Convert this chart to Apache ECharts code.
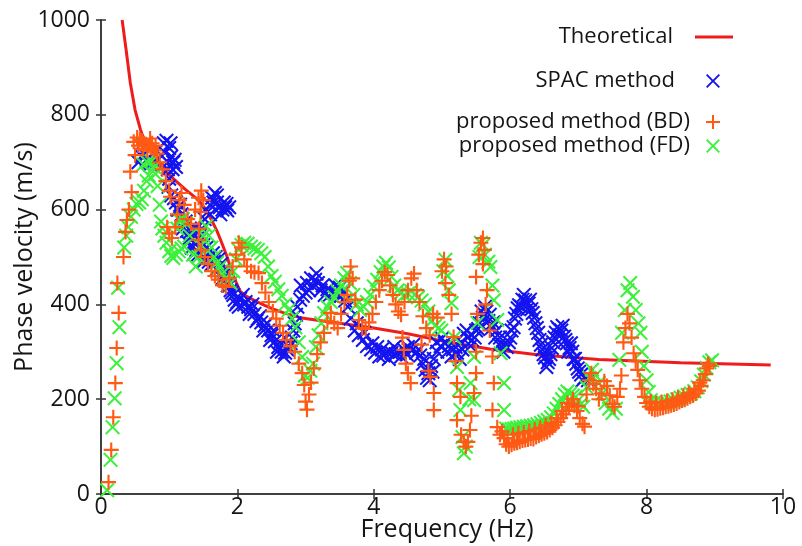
<!DOCTYPE html>
<html>
<head>
<meta charset="utf-8">
<script src="https://cdn.jsdelivr.net/npm/echarts@6/dist/echarts.min.js"></script>
<style>
html,body{margin:0;padding:0;background:#fff;}
#chart{width:802px;height:546px;}
</style>
</head>
<body>
<div id="chart"></div>
<script>
// ---- data (frequency Hz, phase velocity m/s) ----
const xTicks = [0, 2, 4, 6, 8, 10];
const yTicks = [0, 200, 400, 600, 800, 1000];
const seriesNames = ['Theoretical', 'SPAC method', 'proposed method (BD)', 'proposed method (FD)'];

const theoretical = [[0.31,1000],[0.37,935],[0.43,867],[0.5,810],[0.58,768],[0.62,752],[0.8,712],[0.95,680],[1.1,660],[1.24,642],[1.43,620],[1.55,598],[1.62,578],[1.7,555],[1.77,530],[1.85,500],[1.91,473],[1.97,450],[2.04,428],[2.12,418],[2.24,409],[2.4,398],[2.53,390],[2.7,381],[2.92,372],[3.2,366],[3.5,360],[4.0,350],[4.5,338],[5.0,323],[5.7,306],[6.4,294],[7.3,284],[8.5,277],[9.82,272]];

const spac = [[0.55,700],[0.6,712],[0.63,718],[0.67,705],[0.72,695],[0.8,700],[0.88,715],[0.92,740],[0.96,745],[1.0,730],[1.03,712],[1.06,700],[1.1,690],[0.98,685],[1.0,665],[0.99,648],[1.03,630],[1.07,624],[1.1,615],[1.14,600],[1.18,590],[1.22,570],[1.26,555],[1.3,540],[1.33,520],[1.37,508],[1.4,515],[1.44,535],[1.48,560],[1.52,580],[1.56,595],[1.6,610],[1.63,625],[1.67,635],[1.7,615],[1.74,605],[1.78,600],[1.82,605],[1.85,598],
[1.4,560],[1.45,545],[1.5,525],[1.55,505],[1.6,500],[1.64,508],[1.68,500],[1.72,495],[1.76,485],[1.8,470],[1.84,455],[1.88,440],[1.92,425],[1.96,410],[2.0,405],[2.04,412],[2.08,420],[2.12,405],[2.16,395],[2.2,390],[2.25,380],[2.3,370],[2.35,362],[2.4,355],[2.45,345],[2.5,335],[2.55,322],[2.6,310],[2.65,300],[2.7,298],[2.75,310],[2.8,330],[2.84,360],[2.88,395],[2.92,410],[2.96,418],[3.0,425],[3.05,430],[3.1,440],[3.14,452],[3.18,445],[3.22,430],[3.28,420],[3.34,418],[3.4,425],[3.46,422],[3.52,418],[3.58,408],[3.62,395],[3.66,370],[3.72,345],[3.78,335],[3.84,325],[3.9,312],[3.96,305],[4.02,298],[4.08,290],[4.14,292],[4.2,300],[4.26,298],[4.32,295],[4.38,300],[4.44,305],[4.5,310],[4.56,303],[4.62,298],[4.68,292],[4.72,275],[4.76,262],[4.8,255],[4.84,270],[4.88,285],[4.93,300],[4.98,312],[5.04,318],[5.1,312],[5.16,305],[5.22,298],[5.28,320],[5.32,338],[5.38,330],[5.44,325],[5.5,345],[5.55,360],[5.6,372],[5.65,385],[5.7,378],[5.75,362],[5.8,345],[5.85,330],[5.9,315],[5.95,310],[6.0,330],[6.05,352],[6.09,380],[6.13,398],[6.18,410],[6.22,408],[6.27,402],[6.31,390],[6.35,372],[6.39,350],[6.43,325],[6.47,305],[6.51,288],[6.55,278],[6.59,295],[6.63,320],[6.67,340],[6.71,348],[6.75,345],[6.79,332],[6.83,318],[6.87,308],[6.91,300],[6.95,285],[6.99,265],[7.04,252],[7.09,245],[7.14,240],
[0.94,720],[0.98,700],[1.02,740],[1.05,685],[1.08,705],[1.12,600],[1.16,610],[1.2,560],[1.24,575],[1.28,530],[1.32,555],[1.36,530],[1.42,505],[1.46,520],[1.5,490],[1.55,520],[1.58,490],[1.62,485],[1.66,490],[1.7,475],[1.74,480],[1.78,455],[1.82,465],[1.86,440],[1.9,430],[1.94,420],[1.98,400],[1.6,590],[1.65,615],[1.7,630],[1.75,590],[1.8,615],[1.84,612],[1.88,605],
[2.02,395],[2.1,400],[2.18,380],[2.22,400],[2.28,365],[2.33,375],[2.38,345],[2.43,360],[2.48,325],[2.53,345],[2.58,300],[2.62,320],[2.68,290],[2.73,305],[2.78,318],[2.82,345],[2.86,378],
[2.93,440],[3.02,445],[3.08,455],[3.16,465],[3.25,440],[3.32,432],[3.44,440],[3.5,435],[3.56,428],
[3.75,360],[3.86,340],[3.98,318],[4.05,310],[4.12,305],[4.22,285],[4.3,310],[4.4,290],[4.48,295],[4.58,315],[4.66,305],[4.74,285],[4.78,245],[4.82,240],[4.86,258],[4.92,320],[5.0,328],[5.08,300],[5.14,290],[5.2,310],[5.26,285],[5.3,305],[5.36,345],[5.42,312],[5.48,330],[5.53,348],[5.58,385],[5.63,395],[5.68,365],[5.73,350],[5.78,330],[5.84,315],[5.9,300],[5.98,320],[6.02,345],[6.07,370],[6.11,392],[6.16,395],[6.2,420],[6.25,390],[6.29,410],[6.33,382],[6.37,360],[6.41,340],[6.45,315],[6.49,295],[6.53,268],[6.57,285],[6.61,308],[6.65,330],[6.69,352],[6.73,335],[6.77,355],[6.81,325],[6.85,300],[6.89,318],[6.93,285],[6.97,275],[7.01,258],[7.06,240],[7.12,250]];

const bd = [[0.11,25],[0.15,93],[0.18,162],[0.21,234],[0.23,308],[0.26,382],[0.24,445],[0.33,500],[0.36,553],[0.38,578],[0.41,600],[0.45,637],[0.43,680],[0.5,715],[0.48,743],[0.53,752],[0.57,748],[0.6,745],[0.63,740],[0.66,738],[0.7,735],[0.74,730],[0.78,725],[0.82,718],[0.86,700],[0.9,685],[0.95,660],[1.0,640],[1.02,627],[0.97,563],[1.0,550],[1.04,540],[1.09,563],[1.12,590],[1.15,620],[1.18,635],[1.22,610],[1.27,580],[1.32,570],[1.38,600],[1.43,625],[1.47,640],[1.5,620],[1.46,595],[1.44,560],[1.43,536],[1.47,515],[1.52,500],[1.57,485],[1.62,470],[1.67,460],[1.72,452],[1.78,440],[1.83,437],[1.88,455],[1.93,480],[1.98,505],[2.02,530],[2.06,520],[2.1,495],[2.14,480],[2.2,470],[2.25,468],[2.31,466],[2.36,445],[2.41,425],[2.46,405],[2.52,385],[2.57,370],[2.62,355],[2.67,340],[2.72,325],[2.78,312],[2.84,300],[2.9,275],[2.95,255],[2.98,230],[3.0,195],[3.02,178],[3.05,210],[3.08,235],[3.12,265],[3.17,295],[3.22,320],[3.27,340],[3.32,365],[3.37,382],[3.42,360],[3.47,350],[3.52,380],[3.57,405],[3.61,420],[3.64,450],[3.66,480],[3.69,455],[3.73,410],[3.78,367],[3.83,350],[3.88,348],[3.93,362],[3.98,380],[4.03,405],[4.08,430],[4.12,450],[4.16,468],[4.2,462],[4.24,440],[4.28,420],[4.32,400],[4.36,385],[4.4,378],[4.45,405],[4.5,430],[4.55,455],[4.59,465],[4.63,430],[4.67,405],[4.72,375],[4.77,350],[4.82,335],[4.87,380],[4.93,372],
[4.42,330],[4.44,304],[4.47,275],[4.5,255],[4.54,234],[4.8,260],[4.83,247],[4.88,213],[4.88,177],[4.7,315],
[5.0,470],[5.03,495],[5.06,480],[5.05,445],[5.1,420],[5.14,380],[5.17,331],[5.2,280],[5.22,234],[5.27,205],[5.22,156],[5.28,125],[5.32,110],[5.35,100],[5.38,110],[5.41,135],[5.43,165],[5.47,213],[5.5,255],[5.5,300],[5.52,380],[5.5,458],[5.54,505],[5.57,530],[5.6,540],[5.62,515],[5.6,485],[5.66,430],[5.64,400],[5.7,345],[5.74,290],[5.76,234],[5.74,177],[5.81,141],[5.85,125],
[5.88,132],[5.91,118],[5.94,105],[5.98,100],[6.02,104],[6.06,107],[6.1,108],[6.14,110],[6.18,113],[6.22,114],[6.26,115],[6.3,117],[6.34,116],[6.38,120],[6.42,123],[6.46,126],[6.5,128],[6.54,131],[6.58,135],[6.62,140],[6.66,145],[6.7,152],[6.74,160],[6.78,168],[6.82,176],[6.86,184],[6.9,190],[6.94,186],[6.98,175],[7.02,160],[7.06,148],[7.09,142],
[5.96,118],[6.04,125],[6.12,128],[6.2,130],[6.28,133],[6.36,136],[6.44,140],[6.52,145],[6.6,150],[6.68,160],[6.76,175],[6.84,192],[6.92,200],[7.0,185],
[7.12,210],[7.16,240],[7.19,255],[7.22,232],[7.26,222],[7.3,200],[7.34,212],[7.38,238],[7.42,228],[7.46,208],[7.5,190],[7.53,184],[7.57,205],[7.61,222],[7.63,250],[7.66,320],[7.69,350],[7.72,380],[7.75,360],[7.78,330],[7.81,297],[7.84,280],[7.87,262],[7.9,240],[7.93,222],[7.97,205],[8.0,192],
[8.04,184],[8.08,180],[8.12,178],[8.16,179],[8.2,181],[8.24,182],[8.28,184],[8.32,185],[8.36,187],[8.4,189],[8.44,191],[8.48,194],[8.52,197],[8.56,199],[8.6,202],[8.64,205],[8.68,208],[8.72,212],[8.76,218],[8.8,228],[8.83,240],[8.86,253],[8.88,265],[8.9,275],[8.92,270],
[8.06,195],[8.14,192],[8.22,194],[8.3,196],[8.38,199],[8.46,203],[8.54,208],[8.62,213],[8.7,222],[8.78,235],
[0.55,735],[0.62,728],[0.68,725],[0.75,740],[0.8,735],[0.72,750]];

const fd = [[0.09,8],[0.14,72],[0.17,141],[0.2,202],[0.23,276],[0.27,352],[0.25,435],[0.34,520],[0.37,545],[0.4,563],[0.44,585],[0.48,600],[0.52,612],[0.56,615],[0.6,622],[0.63,640],[0.67,660],[0.7,672],[0.62,695],[0.68,700],[0.74,702],[0.78,690],[0.8,675],[0.83,650],[0.86,610],[0.88,575],[0.9,560],[0.93,545],[0.96,530],[1.0,512],[1.03,502],[1.06,498],[1.1,505],[1.14,512],[1.18,518],[1.22,522],[1.12,560],[1.15,578],[1.2,580],[1.25,570],[1.3,545],[1.35,505],[1.39,480],[1.43,500],[1.47,525],[1.5,545],[1.54,565],[1.58,545],[1.62,520],[1.66,500],[1.7,488],[1.74,478],[1.78,465],[1.82,455],[1.86,450],[1.9,445],[1.94,470],[1.98,495],[2.02,515],[2.06,525],[2.1,530],[2.15,528],[2.2,522],[2.25,518],[2.3,515],[2.35,508],[2.4,500],[2.45,480],[2.5,460],[2.55,448],[2.6,432],[2.65,418],[2.7,400],[2.75,388],[2.8,370],[2.85,352],[2.9,320],[2.95,289],[2.99,250],[3.03,245],[3.07,260],[3.11,275],[3.15,310],[3.19,335],[3.23,360],[3.27,382],[3.32,395],[3.37,405],[3.42,415],[3.47,428],[3.52,440],[3.57,455],[3.61,466],[3.65,445],[3.7,420],[3.75,400],[3.8,388],[3.85,395],[3.9,405],[3.95,420],[4.0,438],[4.05,452],[4.1,468],[4.14,480],[4.18,488],[4.22,478],[4.26,458],[4.3,440],[4.35,430],[4.4,425],[4.45,420],[4.5,423],[4.55,428],[4.6,420],[4.65,415],[4.7,408],[4.75,400],[4.8,385],[4.85,365],[4.9,355],[4.95,350],[4.99,345],[5.02,470],[5.05,494],[5.08,460],[5.1,430],[5.14,403],[5.18,330],[5.22,268],[5.25,220],[5.27,177],[5.3,120],[5.32,86],[5.35,100],[5.4,200],[5.42,234],[5.47,198],[5.47,289],[5.52,361],[5.55,500],[5.57,530],[5.6,525],[5.63,505],[5.68,490],[5.71,479],[5.74,440],[5.76,409],[5.81,367],[5.86,297],[5.91,234],[5.91,177],
[5.94,138],[5.98,136],[6.02,137],[6.06,138],[6.1,140],[6.15,141],[6.2,142],[6.25,143],[6.3,144],[6.35,145],[6.4,147],[6.45,150],[6.5,153],[6.55,156],[6.6,162],[6.64,170],[6.68,180],[6.72,190],[6.76,200],[6.8,210],[6.84,216],[6.88,212],[6.92,208],[6.96,205],[7.0,198],[7.04,190],[7.07,184],
[7.12,225],[7.16,245],[7.2,262],[7.25,250],[7.3,234],[7.35,212],[7.4,192],[7.45,180],[7.5,171],[7.55,180],[7.6,283],[7.64,340],[7.68,388],[7.72,430],[7.76,445],[7.8,416],[7.84,388],[7.88,360],[7.91,340],[7.93,300],[7.96,270],[8.0,240],[8.03,215],
[8.06,198],[8.1,192],[8.15,190],[8.2,190],[8.25,191],[8.3,193],[8.35,195],[8.4,197],[8.45,200],[8.5,203],[8.55,206],[8.6,209],[8.65,212],[8.7,217],[8.75,225],[8.8,238],[8.84,252],[8.88,266],[8.92,278],[8.96,282]];

// ---- styling ----
const FONT = 'Open Sans';
const TXT = '#151515';
const PLUS = 'path://M6,0L8,0L8,6L14,6L14,8L8,8L8,14L6,14L6,8L0,8L0,6L6,6Z';
const CROSS = 'path://M0,1.35L1.35,0L7,5.65L12.65,0L14,1.35L8.35,7L14,12.65L12.65,14L7,8.35L1.35,14L0,12.65L5.65,7Z';
const LINEICON = 'path://M0,0L40,0L40,3L0,3Z';
const cRed = '#ee1c1c', cBlue = '#1414f0', cOrange = '#ff5a14', cGreen = '#3cf03c';

const chart = echarts.init(document.getElementById('chart'), null, {renderer: 'canvas'});

const axisLine = {show: true, lineStyle: {color: '#333', width: 1.5}};
const tick = {inside: true, length: 5, lineStyle: {color: '#333', width: 1.5}};
const baseX = {type: 'value', min: xTicks[0], max: xTicks[xTicks.length - 1], interval: 2, splitLine: {show: false}};
const baseY = {type: 'value', min: yTicks[0], max: yTicks[yTicks.length - 1], interval: 200, splitLine: {show: false}};

function legendBox(name, icon, top, right, itemWidth, itemHeight, padRight) {
  return {
    data: [{name: name, icon: icon}], orient: 'vertical', top: top, right: right, align: 'right',
    itemWidth: itemWidth, itemHeight: itemHeight, selectedMode: false,
    textStyle: {fontFamily: FONT, fontSize: 22, color: TXT, padding: [0, padRight, 0, 0]}
  };
}

chart.setOption({
  animation: false,
  backgroundColor: '#fff',
  grid: {left: 101, top: 20, right: 19, bottom: 52, containLabel: false, outerBoundsMode: 'none'},
  legend: [
    legendBox(seriesNames[0], LINEICON, 21, 64, 38, 3, 17),
    legendBox(seriesNames[1], CROSS, 65, 77, 14, 14, 26),
    legendBox(seriesNames[2], PLUS, 106, 77, 14, 14, 11),
    legendBox(seriesNames[3], CROSS, 130, 77, 14, 14, 11)
  ],
  xAxis: [
    Object.assign({}, baseX, {
      position: 'bottom', name: 'Frequency (Hz)', nameLocation: 'middle', nameGap: 23,
      nameMoveOverlap: false,
      nameTextStyle: {fontFamily: FONT, fontSize: 25, color: TXT, padding: [0, 0, 0, 10]},
      axisLine: axisLine, axisTick: tick,
      axisLabel: {fontFamily: FONT, fontSize: 23, color: TXT, margin: 2,
                  formatter: v => String(v)}
    }),
    Object.assign({}, baseX, {
      position: 'top', axisLine: axisLine, axisTick: tick, axisLabel: {show: false}
    })
  ],
  yAxis: [
    Object.assign({}, baseY, {
      position: 'left', name: 'Phase velocity (m/s)', nameLocation: 'middle', nameGap: 64,
      nameMoveOverlap: false,
      nameTextStyle: {fontFamily: FONT, fontSize: 25, color: TXT},
      axisLine: axisLine, axisTick: tick,
      axisLabel: {fontFamily: FONT, fontSize: 23, color: TXT, margin: 11,
                  formatter: v => String(v)}
    }),
    Object.assign({}, baseY, {
      position: 'right', axisLine: axisLine, axisTick: tick, axisLabel: {show: false}
    })
  ],
  series: [
    {name: seriesNames[0], type: 'line', data: theoretical, xAxisIndex: 0, yAxisIndex: 0,
     showSymbol: false, symbol: 'none', smooth: false, clip: true,
     lineStyle: {color: cRed, width: 3}, itemStyle: {color: cRed}, z: 1},
    {name: seriesNames[1], type: 'scatter', data: spac, symbol: CROSS, symbolSize: 15,
     itemStyle: {color: cBlue, opacity: 1}, z: 2},
    {name: seriesNames[3], type: 'scatter', data: fd, symbol: CROSS, symbolSize: 15,
     itemStyle: {color: cGreen, opacity: 1}, z: 3},
    {name: seriesNames[2], type: 'scatter', data: bd, symbol: PLUS, symbolSize: 15,
     itemStyle: {color: cOrange, opacity: 1}, z: 4}
  ]
});
</script>
</body>
</html>
